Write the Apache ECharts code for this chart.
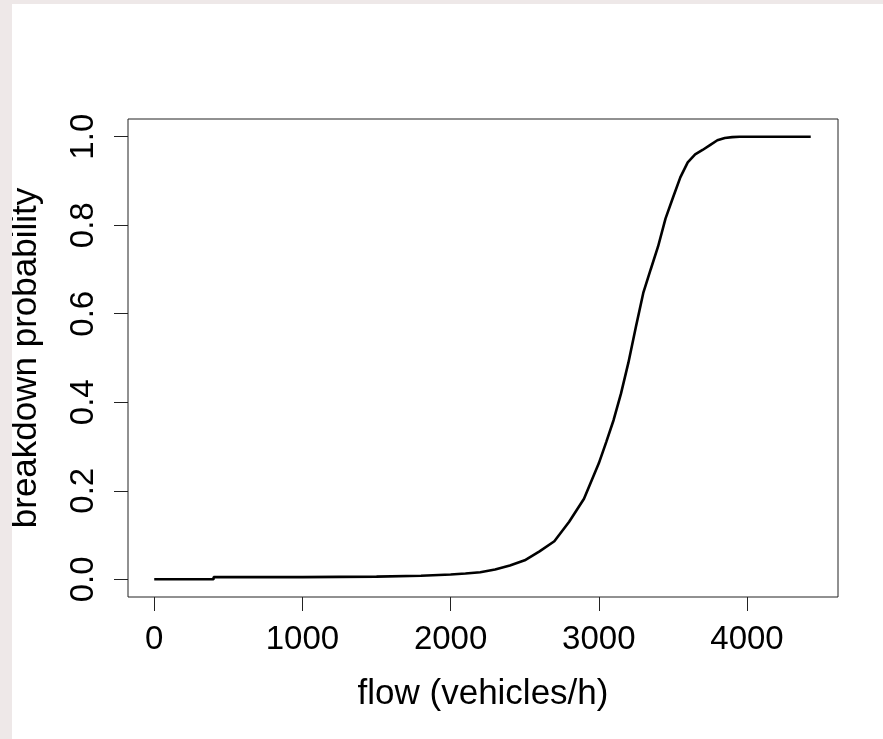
<!DOCTYPE html>
<html>
<head>
<meta charset="utf-8">
<script src="https://cdn.jsdelivr.net/npm/echarts@6/dist/echarts.min.js"></script>
<style>
  html, body { margin: 0; padding: 0; background: #eee8e8; width: 883px; height: 739px; overflow: hidden; }
  #chart { position: absolute; left: 12px; top: 4px; width: 871px; height: 735px; background: #ffffff; }
</style>
</head>
<body>
<div id="chart"></div>
<script>
// Data
const flow = [0, 400, 401, 1000, 1500, 1800, 2000, 2100, 2200, 2300, 2400, 2500, 2600, 2700, 2800, 2900,
  3000, 3050, 3100, 3150, 3200, 3250, 3300, 3350, 3400, 3450, 3500, 3550, 3600, 3650, 3700, 3750,
  3800, 3850, 3900, 3950, 4430];
const prob = [0.0, 0.0, 0.005, 0.005, 0.006, 0.008, 0.011, 0.013, 0.016, 0.022, 0.031, 0.043, 0.063, 0.086, 0.130, 0.182,
  0.262, 0.310, 0.360, 0.420, 0.490, 0.570, 0.647, 0.700, 0.752, 0.815, 0.862, 0.908, 0.942, 0.960, 0.970, 0.981,
  0.992, 0.997, 0.999, 1.0, 1.0];
const xTicks = [0, 1000, 2000, 3000, 4000];
const yTicks = [0, 0.2, 0.4, 0.6, 0.8, 1.0];
const xTitle = 'flow (vehicles/h)';
const yTitle = 'breakdown probability';

const chart = echarts.init(document.getElementById('chart'), null, { renderer: 'canvas' });
const font = 'Liberation Sans, Arial, sans-serif';
const xMin = -177, xMax = 4614;
const yMin = -0.04, yMax = 1.04;

chart.setOption({
  animation: false,
  backgroundColor: '#ffffff',
  grid: {
    left: 116, top: 115, width: 710, height: 478,
    outerBoundsMode: 'none', containLabel: false,
    show: true, borderColor: '#222', borderWidth: 1, backgroundColor: 'transparent'
  },
  xAxis: {
    type: 'value', min: xMin, max: xMax,
    name: xTitle, nameLocation: 'middle', nameGap: 80,
    nameTextStyle: { fontFamily: font, fontSize: 35, color: '#000' },
    axisLine: { show: false, onZero: false },
    splitLine: { show: false },
    axisTick: { show: true, inside: false, length: 14, lineStyle: { color: '#222', width: 1 }, customValues: xTicks },
    axisLabel: { show: true, margin: 26, fontFamily: font, fontSize: 33, color: '#000',
      customValues: xTicks, formatter: v => String(v) }
  },
  yAxis: {
    type: 'value', min: yMin, max: yMax,
    name: yTitle, nameLocation: 'middle', nameGap: 84, nameRotate: 90,
    nameTextStyle: { fontFamily: font, fontSize: 35, color: '#000' },
    axisLine: { show: false, onZero: false },
    splitLine: { show: false },
    axisTick: { show: true, inside: false, length: 14, lineStyle: { color: '#222', width: 1 }, customValues: yTicks },
    axisLabel: { show: true, margin: 28, rotate: 90, fontFamily: font, fontSize: 33, color: '#000',
      customValues: yTicks, formatter: v => v.toFixed(1) }
  },
  series: [{
    type: 'line',
    data: flow.map((f, i) => [f, prob[i]]),
    showSymbol: false,
    symbol: 'none',
    lineStyle: { color: '#000', width: 2.6 },
    clip: false
  }]
});
</script>
</body>
</html>
